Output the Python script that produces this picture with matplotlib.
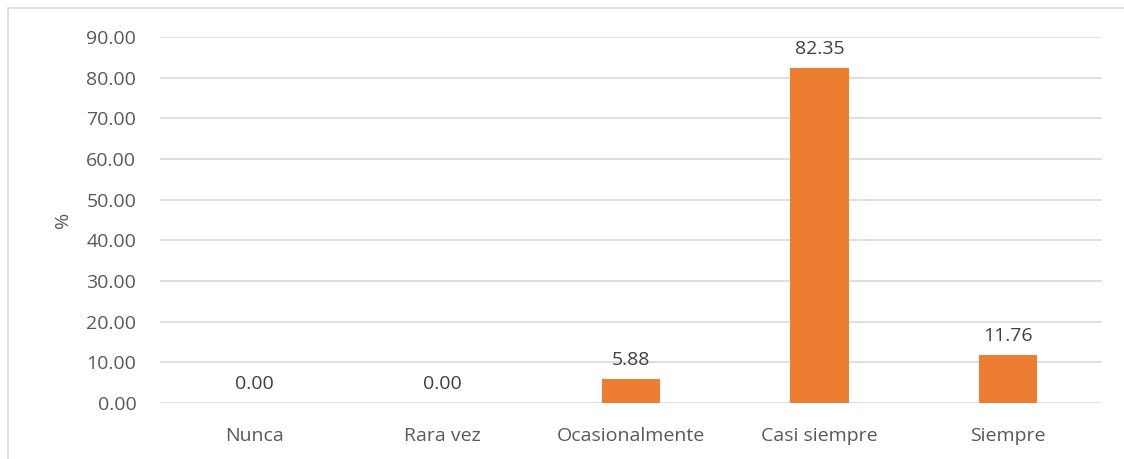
import matplotlib.pyplot as plt
from matplotlib.patches import Rectangle

categories = ['Nunca', 'Rara vez', 'Ocasionalmente', 'Casi siempre', 'Siempre']
values = [0.00, 0.00, 5.88, 82.35, 11.76]
yticks = [0, 10, 20, 30, 40, 50, 60, 70, 80, 90]

plt.rcParams['font.family'] = ['Open Sans', 'DejaVu Sans']
text_color = '#595959'
grid_color = '#D9D9D9'
fs = 14

fig = plt.figure(figsize=(11.24, 4.59), dpi=100)
ax = fig.add_axes([0.1423, 0.122, 0.8381, 0.7974])

x = range(len(categories))
ax.bar(x, values, width=0.31, color='#ED7D31', zorder=3)
for i, v in zip(x, values):
    ax.annotate('%.2f' % v, (i, v), xytext=(0, 7), textcoords='offset points',
                ha='center', va='bottom', fontsize=fs, color='#404040')

ax.set_xlim(-0.5, len(categories) - 0.5)
ax.set_ylim(0, 90)
ax.set_yticks(yticks)
ax.set_yticklabels(['%.2f' % t for t in yticks])
ax.set_xticks(list(x))
ax.set_xticklabels(categories)
ax.tick_params(axis='both', length=0, labelsize=fs, labelcolor=text_color)
ax.tick_params(axis='y', pad=17)
ax.tick_params(axis='x', pad=17)
ax.grid(axis='y', color=grid_color, linewidth=1.2, zorder=0)
for s in ax.spines.values():
    s.set_visible(False)
ax.set_ylabel('%', fontsize=fs, color=text_color, labelpad=10)

# outer chart frame
fig.patches.append(Rectangle((0.007, -0.1), 1.1, 1.0826, transform=fig.transFigure,
                             fill=False, edgecolor=grid_color, linewidth=1.2))

fig.savefig('out.png', dpi=100)
